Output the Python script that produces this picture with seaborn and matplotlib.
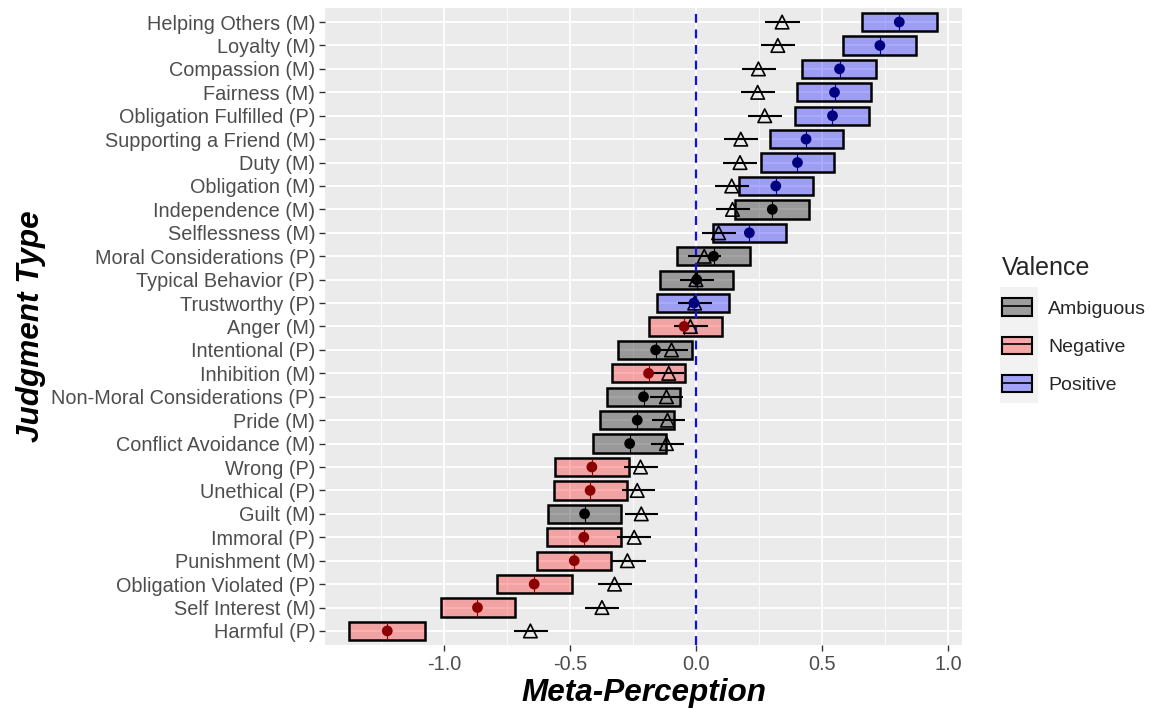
import numpy as np
import pandas as pd
import matplotlib
matplotlib.use("Agg")
import matplotlib.pyplot as plt
from matplotlib.patches import Patch, Rectangle
from matplotlib.lines import Line2D
from matplotlib.legend_handler import HandlerTuple
import seaborn as sns

labels = ["Helping Others (M)", "Loyalty (M)", "Compassion (M)", "Fairness (M)",
          "Obligation Fulfilled (P)", "Supporting a Friend (M)", "Duty (M)",
          "Obligation (M)", "Independence (M)", "Selflessness (M)",
          "Moral Considerations (P)", "Typical Behavior (P)", "Trustworthy (P)",
          "Anger (M)", "Intentional (P)", "Inhibition (M)",
          "Non-Moral Considerations (P)", "Pride (M)", "Conflict Avoidance (M)",
          "Wrong (P)", "Unethical (P)", "Guilt (M)", "Immoral (P)",
          "Punishment (M)", "Obligation Violated (P)", "Self Interest (M)", "Harmful (P)"]
valence = ["Positive", "Positive", "Positive", "Positive", "Positive", "Positive", "Positive",
           "Positive", "Ambiguous", "Positive", "Ambiguous", "Ambiguous", "Positive",
           "Negative", "Ambiguous", "Negative", "Ambiguous", "Ambiguous", "Ambiguous",
           "Negative", "Negative", "Ambiguous", "Negative", "Negative", "Negative",
           "Negative", "Negative"]
meta = [0.807, 0.730, 0.570, 0.550, 0.542, 0.437, 0.403, 0.317, 0.303, 0.212,
        0.070, 0.003, -0.008, -0.047, -0.160, -0.188, -0.208, -0.233, -0.263,
        -0.413, -0.420, -0.442, -0.445, -0.483, -0.642, -0.867, -1.225]
meta_lo = [0.660, 0.582, 0.422, 0.403, 0.393, 0.292, 0.257, 0.172, 0.157, 0.067,
           -0.077, -0.142, -0.155, -0.188, -0.308, -0.333, -0.353, -0.380, -0.408,
           -0.558, -0.565, -0.587, -0.592, -0.632, -0.788, -1.013, -1.377]
meta_hi = [0.957, 0.875, 0.715, 0.695, 0.688, 0.583, 0.548, 0.463, 0.448, 0.357,
           0.215, 0.148, 0.133, 0.102, -0.017, -0.043, -0.063, -0.088, -0.117,
           -0.267, -0.273, -0.297, -0.298, -0.337, -0.493, -0.720, -1.075]
other = [0.342, 0.325, 0.248, 0.245, 0.273, 0.178, 0.175, 0.142, 0.145, 0.090,
         0.033, 0.000, -0.005, -0.022, -0.097, -0.108, -0.117, -0.113, -0.117,
         -0.220, -0.233, -0.217, -0.245, -0.272, -0.323, -0.373, -0.657]
other_lo = [0.273, 0.257, 0.182, 0.177, 0.207, 0.113, 0.108, 0.075, 0.078, 0.023,
            -0.033, -0.063, -0.070, -0.087, -0.163, -0.175, -0.183, -0.175, -0.180,
            -0.285, -0.295, -0.283, -0.312, -0.338, -0.390, -0.442, -0.723]
other_hi = [0.412, 0.395, 0.317, 0.313, 0.342, 0.247, 0.243, 0.210, 0.213, 0.158,
            0.100, 0.070, 0.063, 0.047, -0.030, -0.047, -0.050, -0.043, -0.047,
            -0.152, -0.163, -0.150, -0.177, -0.200, -0.253, -0.305, -0.587]
valence_levels = ["Ambiguous", "Negative", "Positive"]
x_ticks = [-1.0, -0.5, 0.0, 0.5, 1.0]
x_minor = [-1.25, -0.75, -0.25, 0.25, 0.75]

df = pd.DataFrame({"label": labels, "valence": valence, "meta": meta,
                   "meta_lo": meta_lo, "meta_hi": meta_hi, "other": other,
                   "other_lo": other_lo, "other_hi": other_hi})
df["pos"] = np.arange(len(df))

box_fill = {"Ambiguous": (0, 0, 0, 0.35), "Negative": (1, 0, 0, 0.31), "Positive": (0, 0, 1, 0.33)}
dot_col = {"Ambiguous": "black", "Negative": "#8B0000", "Positive": "#000080"}

sns.set_theme(style="darkgrid", rc={"axes.facecolor": "#EBEBEB", "grid.color": "white"})
plt.rcParams["font.family"] = ["Liberation Sans", "DejaVu Sans"]

fig = plt.figure(figsize=(11.51, 7.08), dpi=100)
ax = fig.add_axes([0.2824, 0.089, 0.5534, 0.8997])

# crossbars
for v in valence_levels:
    sub = df[df["valence"] == v]
    ax.barh(sub["pos"], sub["meta_hi"] - sub["meta_lo"], left=sub["meta_lo"], height=0.78,
            color=box_fill[v], edgecolor="black", linewidth=1.8, zorder=3)
    ax.vlines(sub["meta"], sub["pos"] - 0.39, sub["pos"] + 0.39, color=dot_col[v],
              linewidth=0.8, zorder=3.5)

ax.axvline(0, color="#1010E0", linestyle=(0, (4, 3)), linewidth=1.6, zorder=4)

# error bars for the triangles
ax.hlines(df["pos"], df["other_lo"], df["other_hi"], color="black", linewidth=1.5, zorder=5)
sns.scatterplot(data=df, x="other", y="pos", marker="^", s=95, facecolor="none",
                edgecolor="black", linewidth=1.2, ax=ax, zorder=6, legend=False)
sns.scatterplot(data=df, x="meta", y="pos", hue="valence", palette=dot_col, s=60,
                linewidth=0, ax=ax, zorder=7, legend=False)

ax.set_ylim(len(df) - 0.4, -0.6)
ax.set_xlim(-1.472, 1.056)
ax.set_yticks(df["pos"])
ax.set_yticklabels(df["label"])
ax.set_xticks(x_ticks)
ax.set_xticklabels([f"{t:.1f}" for t in x_ticks])
ax.set_xticks(x_minor, minor=True)
ax.grid(which="major", color="white", linewidth=1.3)
ax.grid(which="minor", axis="x", color="white", linewidth=0.6)
ax.tick_params(axis="both", which="major", length=4, width=1, color="#333333",
               labelsize=14.3, labelcolor="#4D4D4D", pad=3, bottom=True, left=True)
ax.tick_params(axis="x", which="minor", length=0)
for s in ax.spines.values():
    s.set_visible(False)

ax.set_xlabel("Meta-Perception", fontsize=22.7, fontweight="bold", fontstyle="italic",
              color="black", labelpad=3)
ax.set_ylabel("Judgment Type", fontsize=22.7, fontweight="bold", fontstyle="italic",
              color="black", labelpad=4)

# legend key background (ggplot-style grey key column)
fig.patches.append(Rectangle((1000 / 1151, 1 - 403 / 708), 38 / 1151, 116 / 708,
                             transform=fig.transFigure, facecolor="#F2F2F2",
                             edgecolor="none", zorder=0.5))

handles = [(Patch(facecolor=box_fill[v], edgecolor="black", linewidth=1.5),
            Line2D([], [], color="black", linewidth=1.2)) for v in valence_levels]
leg = fig.legend(handles, valence_levels, title="Valence", loc="center left",
                 bbox_to_anchor=(0.8555, 0.541), frameon=False, fontsize=14.0,
                 title_fontsize=18, handlelength=1.52, handleheight=1.0,
                 labelspacing=0.97, handletextpad=0.85,
                 handler_map={tuple: HandlerTuple(ndivide=1, pad=0)})
leg._legend_box.align = "left"

fig.savefig("out.png", dpi=100)
